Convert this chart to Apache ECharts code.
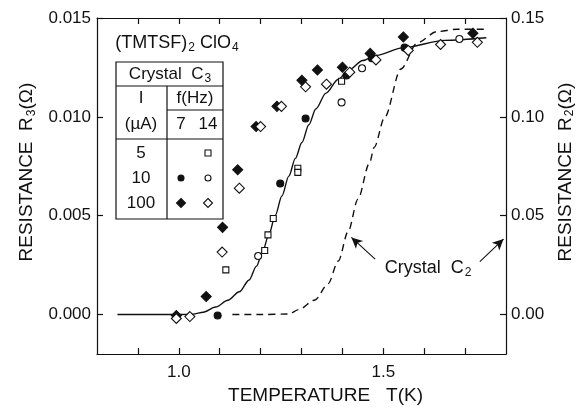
<!DOCTYPE html>
<html>
<head>
<meta charset="utf-8">
<script src="https://cdn.jsdelivr.net/npm/echarts@6.0.0/dist/echarts.min.js"></script>
<style>html,body{margin:0;padding:0;background:#fff}#c{width:584px;height:410px}</style>
</head>
<body>
<div id="c"></div>
<script>
// ---- data (T in K, R3 in ohm, R2 in ohm) ----
const tempTicks = [0.9, 1.0, 1.1, 1.2, 1.3, 1.4, 1.5, 1.6, 1.7];
const tempLabels = [1.0, 1.5];
const r3Ticks = [0, 0.005, 0.010, 0.015];
const r2Ticks = [0, 0.05, 0.10, 0.15];

// Crystal C3, I = 5 uA, f = 14 Hz (open squares)
const c3_5uA_14Hz = [[1.115,0.00226],[1.210,0.00324],[1.218,0.00403],[1.231,0.00486],[1.291,0.00740],[1.291,0.00719],[1.398,0.01180]];
// I = 10 uA, f = 7 Hz (filled circles)
const c3_10uA_7Hz = [[1.095,-0.00005],[1.248,0.00663],[1.310,0.00992],[1.410,0.01209],[1.472,0.01297],[1.552,0.01350]];
// I = 10 uA, f = 14 Hz (open circles)
const c3_10uA_14Hz = [[1.194,0.00296],[1.398,0.01073],[1.448,0.01246],[1.686,0.01394]];
// I = 100 uA, f = 7 Hz (filled diamonds)
const c3_100uA_7Hz = [[0.994,-0.00005],[1.067,0.00091],[1.107,0.00441],[1.144,0.00732],[1.189,0.00951],[1.240,0.01053],[1.301,0.01185],[1.339,0.01237],[1.400,0.01251],[1.468,0.01321],[1.549,0.01404],[1.719,0.01423]];
// I = 100 uA, f = 14 Hz (open diamonds)
const c3_100uA_14Hz = [[0.994,-0.00020],[1.027,-0.00010],[1.106,0.00316],[1.148,0.00639],[1.200,0.00951],[1.251,0.01053],[1.310,0.01152],[1.361,0.01165],[1.418,0.01226],[1.482,0.01288],[1.561,0.01336],[1.640,0.01366],[1.730,0.01377]];
// solid curve through C3 data (left axis)
const c3Curve = [[0.85,0],[1.0,0],[1.035,0.00002],[1.06,0.00012],[1.09,0.00038],[1.12,0.00072],[1.148,0.00115],[1.172,0.00175],[1.19,0.00245],[1.205,0.0032],[1.22,0.00403],[1.236,0.00502],[1.252,0.006],[1.269,0.007],[1.285,0.0079],[1.301,0.0087],[1.318,0.0096],[1.335,0.0104],[1.36,0.0112],[1.39,0.0119],[1.414,0.01235],[1.45,0.01285],[1.48,0.0131],[1.55,0.0135],[1.65,0.01387],[1.752,0.014]];
// dashed curve, Crystal C2 (right axis, R2)
const c2Curve = [[1.131,0],[1.20,0],[1.269,0.0003],[1.293,0.0025],[1.333,0.0074],[1.365,0.0156],[1.390,0.0271],[1.414,0.042],[1.438,0.0584],[1.466,0.0765],[1.478,0.0847],[1.503,0.0996],[1.543,0.1242],[1.583,0.1374],[1.631,0.1431],[1.68,0.1443],[1.752,0.1443]];
// arrow annotations (T, R2)
const arrowLeft = [[1.480,0.028],[1.422,0.039]];
const arrowRight = [[1.736,0.0268],[1.794,0.0382]];

const FONT = 'Liberation Sans';
const BLACK = '#111';
const chart = echarts.init(document.getElementById('c'), null, {renderer:'canvas'});

const lineAxis = {show:true, onZero:false, lineStyle:{color:BLACK, width:1.2}};
const tickIn = (vals) => ({show:true, inside:true, length:6, lineStyle:{color:BLACK, width:1.2}, customValues: vals});

function markerSeries(name, data, symbol, size, filled) {
  return {
    name, type:'scatter', xAxisIndex:0, yAxisIndex:0, data,
    symbol, symbolSize:size,
    itemStyle:{color: filled ? BLACK : '#fff', borderColor:BLACK, borderWidth:1.1, opacity:1},
    z:5
  };
}

// legend table geometry (pixels)
const tL = 116, tR = 223, tT = 62, tB = 219, tMid = 167;
const col7 = 181, col14 = 208;
const txt = (x, y, text, size, align) => ({type:'text', x, y, style:{text, font: (size||16)+'px "'+FONT+'"', fill:BLACK, align: align||'center', verticalAlign:'middle'}});
const richTxt = (x, y, text, rich) => ({type:'text', x, y, style:{text, fill:BLACK, align:'center', verticalAlign:'middle', rich}});
const base = {fontFamily:FONT, fontSize:17, color:BLACK};
const big = {fontFamily:FONT, fontSize:18, color:BLACK};
const axisName = {fontFamily:FONT, fontSize:19, color:BLACK};
const sub = {fontFamily:FONT, fontSize:12, color:BLACK, padding:[9,0,0,1]};
const line = (x1,y1,x2,y2) => ({type:'line', shape:{x1,y1,x2,y2}, style:{stroke:BLACK, lineWidth:1.2}});
const sq = (cx,cy) => ({type:'rect', shape:{x:cx-3, y:cy-3, width:6, height:6}, style:{fill:'#fff', stroke:BLACK, lineWidth:1.1}});
const circ = (cx,cy,f) => ({type:'circle', shape:{cx, cy, r:3}, style:{fill:f?BLACK:'#fff', stroke:BLACK, lineWidth:1.1}});
const dia = (cx,cy,f) => ({type:'polygon', shape:{points:[[cx,cy-4.5],[cx+4.5,cy],[cx,cy+4.5],[cx-4.5,cy]]}, style:{fill:f?BLACK:'#fff', stroke:BLACK, lineWidth:1.1}});

const option = {
  animation:false,
  backgroundColor:'#fff',
  grid:{left:97, right:75, top:18, bottom:48, containLabel:false},
  xAxis:[{
    type:'value', min:0.8, max:1.8, position:'bottom',
    axisLine:lineAxis, splitLine:{show:false},
    axisTick:tickIn(tempTicks),
    axisLabel:{customValues:tempLabels, formatter:v=>v.toFixed(1), color:BLACK, fontFamily:FONT, fontSize:17, margin:10},
    name:'TEMPERATURE   T(K)', nameLocation:'middle', nameGap:24,
    nameTextStyle:{color:BLACK, fontFamily:FONT, fontSize:19, padding:[0,0,0,48]}
  },{
    type:'value', min:0.8, max:1.8, position:'top',
    axisLine:lineAxis, splitLine:{show:false},
    axisTick:tickIn(tempTicks), axisLabel:{show:false}
  }],
  yAxis:[{
    type:'value', min:-0.002, max:0.015, position:'left',
    axisLine:lineAxis, splitLine:{show:false},
    axisTick:tickIn(r3Ticks),
    axisLabel:{customValues:r3Ticks, formatter:v=>v.toFixed(3), color:BLACK, fontFamily:FONT, fontSize:17, margin:6},
    name:'{a|RESISTANCE  R}{s|3}{a|(Ω)}', nameLocation:'middle', nameGap:51, nameRotate:90,
    nameTextStyle:{padding:[0,0,0,28], rich:{a:axisName, s:sub}}
  },{
    type:'value', min:-0.02, max:0.15, position:'right',
    axisLine:lineAxis, splitLine:{show:false},
    axisTick:tickIn(r2Ticks),
    axisLabel:{customValues:r2Ticks, formatter:v=>v.toFixed(2), color:BLACK, fontFamily:FONT, fontSize:17, margin:5},
    name:'{a|RESISTANCE  R}{s|2}{a|(Ω)}', nameLocation:'middle', nameGap:49, nameRotate:90,
    nameTextStyle:{padding:[0,0,0,28], rich:{a:axisName, s:sub}}
  }],
  series:[
    {name:'C3 fit', type:'line', xAxisIndex:0, yAxisIndex:0, data:c3Curve, smooth:0.3, smoothMonotone:'x', showSymbol:false,
     lineStyle:{color:BLACK, width:1.4}, z:3},
    {name:'C2', type:'line', xAxisIndex:0, yAxisIndex:1, data:c2Curve, smooth:0.3, smoothMonotone:'x', showSymbol:false,
     lineStyle:{color:BLACK, width:1.4, type:[7,5]}, z:3,
     markLine:{silent:true, symbol:['none','arrow'], symbolSize:[8,11], label:{show:false},
       lineStyle:{color:BLACK, width:1.1, type:'solid'},
       data:[[{coord:arrowLeft[0]},{coord:arrowLeft[1]}],[{coord:arrowRight[0]},{coord:arrowRight[1]}]]}},
    markerSeries('5 µA, 14 Hz', c3_5uA_14Hz, 'rect', 6, false),
    markerSeries('10 µA, 7 Hz', c3_10uA_7Hz, 'circle', 7, true),
    markerSeries('10 µA, 14 Hz', c3_10uA_14Hz, 'circle', 7, false),
    markerSeries('100 µA, 7 Hz', c3_100uA_7Hz, 'diamond', 10, true),
    markerSeries('100 µA, 14 Hz', c3_100uA_14Hz, 'diamond', 10, false)
  ],
  graphic:[
    richTxt(177, 43, '{a|(TMTSF)}{s|2}{a| ClO}{s|4}', {a:big, s:sub}),
    {type:'rect', shape:{x:tL, y:tT, width:tR-tL, height:tB-tT}, style:{fill:'rgba(0,0,0,0)', stroke:BLACK, lineWidth:1.2}},
    line(tL,86,tR,86), line(tL,139,tR,139), line(tMid,110,tR,110), line(tMid,86,tMid,tB),
    richTxt(170, 74, '{a|Crystal  C}{s|3}', {a:base, s:sub}),
    txt(141, 98, 'I', 17), txt(195, 98, 'f(Hz)', 17),
    txt(141, 124, '(µA)', 17), txt(col7, 124, '7', 17), txt(col14, 124, '14', 17),
    txt(141, 153, '5', 17), txt(141, 178, '10', 17), txt(141, 203, '100', 17),
    sq(col14, 153),
    circ(col7, 178, true), circ(col14, 178, false),
    dia(col7, 203, true), dia(col14, 203, false),
    richTxt(428, 268, '{a|Crystal  C}{s|2}', {a:big, s:sub})
  ]
};
chart.setOption(option);
</script>
</body>
</html>
